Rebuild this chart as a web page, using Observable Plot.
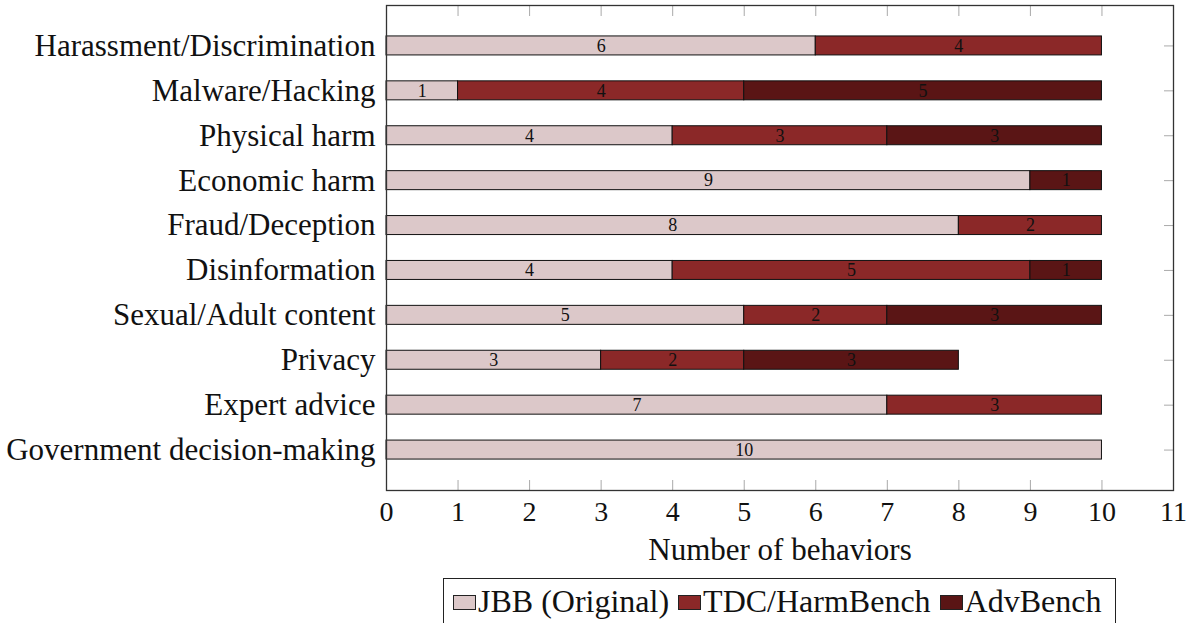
<!DOCTYPE html>
<html><head><meta charset="utf-8">
<script src="https://cdn.jsdelivr.net/npm/d3@7"></script>
<script src="https://cdn.jsdelivr.net/npm/@observablehq/plot@0.6"></script>
<style>
body{margin:0;background:#fff;font-family:"Liberation Serif","DejaVu Serif",serif;}
#wrap{position:relative;width:1195px;height:623px;overflow:hidden;}
#legend{position:absolute;left:443px;top:578px;width:673px;height:60px;border:1px solid #222;box-sizing:border-box;display:flex;align-items:flex-start;padding-left:9px;padding-top:4px;font-size:32px;color:#111;white-space:nowrap;}
.item{display:flex;align-items:center;margin-right:9px;line-height:36px;}
.sw{width:23px;height:15px;border:1px solid #222;box-sizing:border-box;margin-right:2px;margin-top:3px;}
</style></head>
<body><div id="wrap"><div id="chart"></div><div id="legend"></div></div>
<script>
const categories = ["Harassment/Discrimination","Malware/Hacking","Physical harm","Economic harm","Fraud/Deception","Disinformation","Sexual/Adult content","Privacy","Expert advice","Government decision-making"];
const series = ["JBB (Original)","TDC/HarmBench","AdvBench"];
const jbb = [6,1,4,9,8,4,5,3,7,10];
const tdc = [4,4,3,0,2,5,2,2,3,0];
const adv = [0,5,3,1,0,1,3,3,0,0];
const colors = ["#dcc8c9","#8b2828","#5a1515"];
const xTicks = [0,1,2,3,4,5,6,7,8,9,10,11];

const seriesValues = [jbb, tdc, adv];
const data = [];
categories.forEach((c, i) => {
  series.forEach((s, j) => {
    const v = seriesValues[j][i];
    if (v > 0) data.push({category: c, series: s, value: v});
  });
});

const FONT = "'Liberation Serif', 'DejaVu Serif', serif";
const chart = Plot.plot({
  width: 1195,
  height: 575,
  marginLeft: 386,
  marginRight: 22,
  marginTop: 5,
  marginBottom: 85,
  style: {fontFamily: FONT, background: "#fff", color: "#111"},
  x: {domain: [0, 11]},
  y: {domain: categories, paddingInner: 0.577, paddingOuter: 0.689, round: false},
  color: {domain: series, range: colors},
  marks: [
    Plot.barX(data, Plot.stackX({x: "value", y: "category", fill: "series", stroke: "#111", strokeWidth: 1})),
    Plot.text(data, Plot.stackX({x: "value", y: "category", text: d => String(d.value), fontSize: 18, fill: "#111", fontFamily: FONT})),
    Plot.axisX({anchor: "top", ticks: xTicks, tickSize: -10, tickFormat: () => "", stroke: "#aaa", label: null}),
    Plot.axisX({anchor: "bottom", ticks: xTicks, tickSize: -10, tickFormat: () => "", stroke: "#aaa", label: null}),
    Plot.axisX({anchor: "bottom", ticks: xTicks, tickSize: 0, tickPadding: 11, fontSize: 28, fontFamily: FONT, label: null}),
    Plot.axisX({anchor: "bottom", ticks: [], tickSize: 0, fontSize: 31, fontFamily: FONT, label: "Number of behaviors", labelAnchor: "center", labelArrow: "none", labelOffset: 69}),
    Plot.axisY({anchor: "right", tickSize: -10, tickFormat: () => "", stroke: "#aaa", label: null}),
    Plot.axisY({anchor: "left", tickSize: 0, tickPadding: 11, fontSize: 31, fontFamily: FONT, label: null}),
    Plot.frame({stroke: "#333", strokeWidth: 1.3})
  ]
});
document.getElementById("chart").appendChild(chart);

const legend = document.getElementById("legend");
series.forEach((s, j) => {
  const it = document.createElement("div");
  it.className = "item";
  const sw = document.createElement("div");
  sw.className = "sw";
  sw.style.background = colors[j];
  const t = document.createElement("span");
  t.textContent = s;
  it.appendChild(sw); it.appendChild(t);
  legend.appendChild(it);
});
</script>
</body></html>
